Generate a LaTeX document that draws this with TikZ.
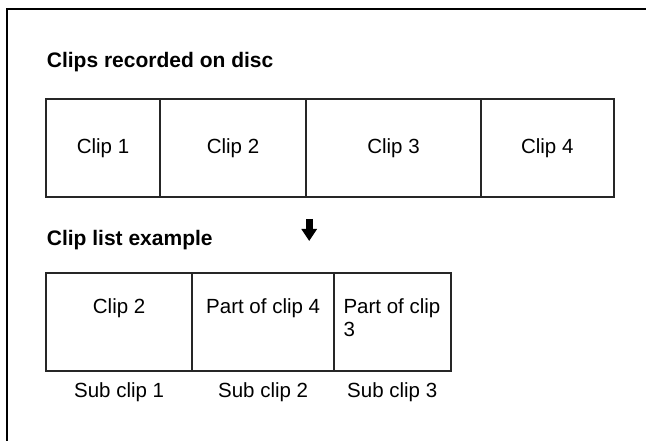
\documentclass[tikz,border=0pt]{standalone}
\usepackage{fontspec}
\setmainfont{Liberation Sans}
\usetikzlibrary{positioning}
\usetikzlibrary{arrows.meta}

\begin{document}
\begin{tikzpicture}[x=1pt, y=-1pt,
  clipbox/.style={draw=black!85, line width=2pt, outer sep=0pt, inner sep=0pt,
    minimum height=98pt, font=\fontsize{20.5}{23.4}\selectfont},
  cliptext/.style={inner sep=0pt, font=\fontsize{20.5}{23.4}\selectfont},
  heading/.style={anchor=base west, inner sep=0pt, font=\fontsize{21}{24}\selectfont\bfseries}]
\useasboundingbox (0,0) rectangle (646,441);
% frame
\draw[line width=2pt] (7,441) -- (7,9) -- (646,9);

\node[heading] (disc) at (46.7,67.7) {Clips recorded on disc};
% clips on disc
\node[clipbox, minimum width=114pt, anchor=north west] (c1) at (46,99) {Clip 1};
\node[clipbox, minimum width=146pt, right=0pt of c1] (c2) {Clip 2};
\node[clipbox, minimum width=175pt, right=0pt of c2] (c3) {Clip 3};
\node[clipbox, minimum width=132.5pt, right=0pt of c3] (c4) {Clip 4};

\coordinate (arrtop) at (309.2,219);
\coordinate (arrtip) at (309.2,241);
\draw[line width=7pt, -{Triangle[width=15pt, length=12pt]}] (arrtop) -- (arrtip);

\node[heading] (list) at (46.7,245) {Clip list example};
% clip list
\node[clipbox, minimum width=146.3pt, anchor=north west] (s1) at (46,273.3) {};
\node[clipbox, minimum width=141.7pt, right=0pt of s1] (s2) {};
\node[clipbox, minimum width=116.5pt, right=0pt of s2] (s3) {};
\node[cliptext, anchor=north] (t1) at ([yshift=-25pt]s1.north) {Clip 2};
\node[cliptext, anchor=north] (t2) at ([yshift=-25pt]s2.north) {Part of clip 4};
\node[cliptext, anchor=north west, align=left] (t3) at ([xshift=9.3pt, yshift=-25pt]s3.north west) {Part of clip\\3};

\node[cliptext, anchor=base] (u1) at ([yshift=-26pt]s1.south) {Sub clip 1};
\node[cliptext, anchor=base] (u2) at ([yshift=-26pt]s2.south) {Sub clip 2};
\node[cliptext, anchor=base] (u3) at ([yshift=-26pt]s3.south) {Sub clip 3};
\end{tikzpicture}
\end{document}
